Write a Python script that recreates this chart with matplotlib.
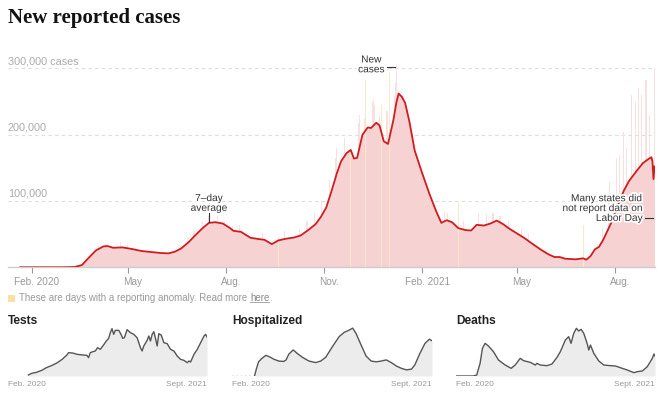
import matplotlib
matplotlib.use('Agg')
import matplotlib.pyplot as plt
import matplotlib.dates as mdates
import matplotlib.transforms as mtransforms
import matplotlib.patheffects as pe
import pandas as pd

W, H, DPI = 661, 397, 100

# ---------------- data ----------------
avg_dates = ["2020-01-21", "2020-03-01", "2020-03-12", "2020-03-19", "2020-03-25", "2020-04-01",
             "2020-04-08", "2020-04-12", "2020-04-17", "2020-04-26", "2020-05-05", "2020-05-14",
             "2020-05-26", "2020-06-01", "2020-06-08", "2020-06-14", "2020-06-20", "2020-06-27",
             "2020-07-03", "2020-07-10", "2020-07-16", "2020-07-22", "2020-07-29", "2020-08-04",
             "2020-08-08", "2020-08-15", "2020-08-24", "2020-09-01", "2020-09-06", "2020-09-13",
             "2020-09-19", "2020-09-26", "2020-10-04", "2020-10-10", "2020-10-17", "2020-10-24",
             "2020-10-29", "2020-11-03", "2020-11-08", "2020-11-13", "2020-11-17", "2020-11-22",
             "2020-11-26", "2020-11-29", "2020-12-02", "2020-12-07", "2020-12-12", "2020-12-15",
             "2020-12-20", "2020-12-23", "2020-12-27", "2020-12-31", "2021-01-05", "2021-01-08",
             "2021-01-10", "2021-01-13", "2021-01-16", "2021-01-20", "2021-01-25", "2021-02-01",
             "2021-02-08", "2021-02-14", "2021-02-19", "2021-02-24", "2021-03-01", "2021-03-07",
             "2021-03-14", "2021-03-19", "2021-03-24", "2021-03-31", "2021-04-06", "2021-04-12",
             "2021-04-18", "2021-04-24", "2021-05-01", "2021-05-08", "2021-05-14", "2021-05-23",
             "2021-05-30", "2021-06-05", "2021-06-10", "2021-06-15", "2021-06-25", "2021-07-02",
             "2021-07-05", "2021-07-09", "2021-07-13", "2021-07-17", "2021-07-21", "2021-07-28",
             "2021-08-04", "2021-08-09", "2021-08-14", "2021-08-21", "2021-08-27", "2021-09-01",
             "2021-09-04", "2021-09-05", "2021-09-06", "2021-09-07"]
avg_values = [0, 10, 400, 3500, 14000, 25500,
              31500, 32000, 29500, 30000, 27500, 24500,
              22500, 21500, 21000, 23500, 28500, 38000,
              48000, 59000, 67000, 68000, 66000, 60000,
              55000, 53500, 44500, 42500, 41500, 35000,
              40500, 43000, 45000, 48000, 56000, 65000,
              76000, 90000, 115000, 142000, 160000, 172000,
              177000, 164000, 165000, 200000, 211000, 210000,
              218000, 214000, 190000, 186000, 222000, 250000,
              262000, 257000, 248000, 220000, 176000, 142000,
              110000, 85000, 67000, 71000, 68000, 59000,
              56000, 55500, 64000, 63000, 66000, 70500,
              65000, 58000, 51000, 44000, 37000, 27000,
              20000, 15500, 15500, 13000, 12000, 13500,
              11500, 17000, 27000, 31000, 42000, 66000,
              95000, 115000, 130000, 145000, 157000, 163000,
              166000, 160000, 133000, 152000]

spike_dates = ["2020-04-03", "2020-04-10", "2020-04-24", "2020-05-01", "2020-05-08", "2020-06-19",
               "2020-06-26", "2020-07-02", "2020-07-10", "2020-07-16", "2020-07-24", "2020-07-31",
               "2020-08-07", "2020-08-14", "2020-08-21", "2020-09-04", "2020-09-25", "2020-10-09",
               "2020-10-16", "2020-10-23", "2020-10-30", "2020-11-06", "2020-11-12", "2020-11-13",
               "2020-11-20", "2020-12-03", "2020-12-04", "2020-12-09", "2020-12-16", "2020-12-17",
               "2020-12-18", "2020-12-23", "2020-12-30", "2021-01-06", "2021-01-07", "2021-01-08",
               "2021-01-09", "2021-01-14", "2021-01-22", "2021-01-28", "2021-02-04", "2021-02-11",
               "2021-02-22", "2021-02-25", "2021-03-12", "2021-03-26", "2021-04-02", "2021-04-08",
               "2021-04-09", "2021-04-15", "2021-04-23", "2021-05-05", "2021-05-12", "2021-07-20",
               "2021-07-26", "2021-07-27", "2021-08-02", "2021-08-05", "2021-08-09", "2021-08-12",
               "2021-08-16", "2021-08-20", "2021-08-23", "2021-08-26", "2021-08-30", "2021-09-02",
               "2021-09-07"]
spike_values = [34000, 35500, 38000, 35000, 29000, 32000,
                45000, 55000, 69000, 77000, 78000, 70000,
                62000, 64000, 48000, 52000, 55000, 58000,
                70000, 84000, 100000, 132000, 165000, 180000,
                195000, 218000, 230000, 225000, 250000, 253000,
                245000, 228000, 235000, 258000, 278000, 305000,
                265000, 240000, 195000, 160000, 125000, 100000,
                83000, 82000, 70000, 82000, 80000, 82000,
                83000, 78000, 70000, 58000, 50000, 60000,
                110000, 128000, 165000, 170000, 204000, 180000,
                260000, 250000, 270000, 260000, 283000, 230000,
                300000]

anomaly_dates = ["2020-09-19", "2020-11-26", "2020-12-10", "2020-12-25", "2021-01-01",
                 "2021-03-07", "2021-07-02"]
anomaly_values = [45000, 174000, 283000, 245000, 294000, 97000, 64000]

tick_dates = ["2020-02-01", "2020-05-01", "2020-08-01", "2020-11-01",
              "2021-02-01", "2021-05-01", "2021-08-01"]
tick_labels = ["Feb. 2020", "May", "Aug.", "Nov.", "Feb. 2021", "May", "Aug."]
grid_values = [100000, 200000, 300000]
grid_labels = ["100,000", "200,000", "300,000 cases"]

# small multiples (tests in thousands, hospitalized in thousands, deaths)
tests_dates = ["2020-03-22", "2020-04-01", "2020-04-15", "2020-05-01", "2020-05-15", "2020-06-01",
               "2020-06-15", "2020-07-01", "2020-07-15", "2020-07-20", "2020-08-01", "2020-08-15",
               "2020-09-01", "2020-09-13", "2020-09-18", "2020-09-23", "2020-10-01", "2020-10-08",
               "2020-10-15", "2020-10-23", "2020-11-01", "2020-11-10", "2020-11-17", "2020-11-22",
               "2020-11-27", "2020-12-02", "2020-12-07", "2020-12-17", "2020-12-24", "2020-12-29",
               "2021-01-03", "2021-01-11", "2021-01-21", "2021-01-31", "2021-02-10", "2021-02-20",
               "2021-02-25", "2021-03-02", "2021-03-12", "2021-03-17", "2021-03-22", "2021-03-27",
               "2021-04-01", "2021-04-06", "2021-04-11", "2021-04-16", "2021-04-23", "2021-05-01",
               "2021-05-11", "2021-05-21", "2021-05-31", "2021-06-10", "2021-06-20", "2021-06-30",
               "2021-07-10", "2021-07-15", "2021-07-20", "2021-07-30", "2021-08-09", "2021-08-19",
               "2021-08-29", "2021-09-03", "2021-09-07"]
tests_values = [42, 112, 154, 238, 350, 448,
                546, 700, 882, 980, 966, 910,
                882, 868, 770, 980, 1022, 1050,
                1190, 1120, 1288, 1470, 1582, 1820,
                1988, 1750, 1918, 1918, 1750, 1582,
                1610, 1946, 1820, 1750, 1610, 1190,
                1050, 1260, 1498, 1680, 1470, 1750,
                1862, 1582, 1260, 1778, 1722, 1400,
                1358, 1120, 1050, 840, 700, 658,
                560, 630, 588, 910, 1120, 1400,
                1680, 1750, 1638]

hosp_dates = ["2020-03-28", "2020-04-03", "2020-04-09", "2020-04-19", "2020-05-01", "2020-05-14",
              "2020-05-24", "2020-06-08", "2020-06-23", "2020-06-30", "2020-07-08", "2020-07-21",
              "2020-08-02", "2020-08-17", "2020-09-06", "2020-09-26", "2020-10-11", "2020-10-26",
              "2020-11-15", "2020-12-05", "2020-12-20", "2021-01-04", "2021-01-14", "2021-01-24",
              "2021-02-08", "2021-02-23", "2021-03-10", "2021-03-25", "2021-04-09", "2021-04-24",
              "2021-05-09", "2021-05-24", "2021-06-08", "2021-06-23", "2021-07-08", "2021-07-18",
              "2021-08-02", "2021-08-17", "2021-08-30", "2021-09-07"]
hosp_values = [0, 20, 37, 46, 54, 49,
               44, 39, 38, 42, 57, 68,
               59, 49, 39, 35, 39, 49,
               77, 103, 114, 120, 125, 111,
               81, 52, 39, 37, 39, 42,
               35, 26, 20, 16, 18, 29,
               59, 85, 96, 92]

deaths_dates = ["2020-01-21", "2020-03-13", "2020-03-23", "2020-04-02", "2020-04-09", "2020-04-17",
                "2020-04-27", "2020-05-12", "2020-05-27", "2020-06-16", "2020-07-04", "2020-07-16",
                "2020-07-31", "2020-08-10", "2020-08-30", "2020-09-14", "2020-09-19", "2020-09-29",
                "2020-10-19", "2020-11-03", "2020-11-18", "2020-11-28", "2020-12-13", "2020-12-23",
                "2020-12-30", "2021-01-07", "2021-01-15", "2021-01-22", "2021-01-29", "2021-02-06",
                "2021-02-16", "2021-02-21", "2021-02-26", "2021-03-08", "2021-03-23", "2021-04-07",
                "2021-04-27", "2021-05-12", "2021-06-01", "2021-06-16", "2021-07-06", "2021-07-16",
                "2021-07-31", "2021-08-15", "2021-08-30", "2021-09-04", "2021-09-07"]
deaths_values = [0, 0, 71, 904, 1975, 2332,
                 2142, 1737, 1142, 785, 547, 785,
                 1261, 1095, 976, 785, 904, 785,
                 738, 857, 1333, 1737, 2570, 2808,
                 2332, 3046, 3403, 3213, 3332, 3046,
                 2332, 1856, 2213, 1618, 1071, 785,
                 738, 714, 547, 428, 238, 309,
                 357, 666, 1261, 1571, 1428]

# ---------------- style ----------------
SANS = ['Liberation Sans', 'DejaVu Sans']
NARROW = ['Liberation Sans Narrow', 'Liberation Sans', 'DejaVu Sans']
RED = '#d01c1f'
PINK = '#f7d2d2'
SPIKE = '#f9e0e0'
YELLOW = '#fbe8cc'
GRAY_TXT = '#999999'

plt.rcParams['font.family'] = SANS

fig = plt.figure(figsize=(W / DPI, H / DPI), dpi=DPI)
fig.patch.set_facecolor('white')


def rect(left, top, right, bottom):
    return [left / W, 1 - bottom / H, (right - left) / W, (bottom - top) / H]


def ftext(x, y, s, **kw):
    return fig.text(x / W, 1 - y / H, s, **kw)


to_num = lambda lst: mdates.date2num(pd.to_datetime(lst))

# title
ftext(8, 18, "New reported cases", family=['Liberation Serif', 'DejaVu Serif'],
      weight='bold', size=15, color='#121212', va='center', ha='left')

# ---------------- main chart ----------------
ax = fig.add_axes(rect(8, 55.1, 655, 267.3))
ax.set_xlim(pd.Timestamp("2020-01-09 12:00"), pd.Timestamp("2021-09-07 10:00"))
ax.set_ylim(0, 320000)
ax.set_facecolor('none')

for v in grid_values:
    ax.axhline(v, color='#dcdcdc', lw=0.8, ls=(0, (3, 3)), zorder=0)

ad = to_num(avg_dates)
ax.bar(to_num(spike_dates), spike_values, width=1.0, color=SPIKE, lw=0, zorder=1)
ax.fill_between(ad, avg_values, color=PINK, lw=0, zorder=1.1)
ax.bar(to_num(anomaly_dates), anomaly_values, width=0.9, color=YELLOW, lw=0, zorder=1.2)
ax.plot(ad, avg_values, color=RED, lw=1.3, zorder=3, solid_joinstyle='round')

for s in ['top', 'right', 'left']:
    ax.spines[s].set_visible(False)
ax.spines['bottom'].set_color('#cccccc')
ax.spines['bottom'].set_linewidth(1.0)
ax.set_yticks([])
ax.set_xticks(to_num(tick_dates))
ax.set_xticklabels(tick_labels)
ax.tick_params(axis='x', length=4, width=0.8, color='#999999', labelcolor=GRAY_TXT,
               labelsize=7.2, pad=3)
off = mtransforms.ScaledTranslation(5 / DPI, 0, fig.dpi_scale_trans)
for lab in ax.get_xticklabels():
    lab.set_transform(lab.get_transform() + off)

# grid labels
for v, lab in zip(grid_values, grid_labels):
    ax.annotate(lab, xy=(0, v), xycoords=('axes fraction', 'data'), xytext=(0, 2),
                textcoords='offset pixels', ha='left', va='bottom', fontsize=7.8,
                color='#aaaaaa')


def data_px(d, v):
    X, Y = ax.transData.transform((mdates.date2num(pd.Timestamp(d)), v))
    return X, H - Y


halo = [pe.withStroke(linewidth=2.5, foreground='white')]
ann_kw = dict(family=NARROW, size=7.3, color='#333333', linespacing=0.98)

# 7-day average
x7, y7 = data_px("2020-07-16", 67000)
fig.add_artist(plt.Line2D([x7 / W, x7 / W], [1 - (y7 - 1) / H, 1 - (y7 - 10) / H],
                          color='#333333', lw=0.8))
ftext(x7, y7 - 10, "7–day\naverage", ha='center', va='bottom', multialignment='center',
      path_effects=halo, **ann_kw)

# New cases
xn, yn = data_px("2021-01-08", 300000)
fig.add_artist(plt.Line2D([(xn - 10) / W, (xn - 2) / W], [1 - (yn - 1) / H] * 2,
                          color='#333333', lw=0.8))
ftext(xn - 12, yn - 4, "New\ncases", ha='right', va='center', multialignment='center',
      path_effects=halo, **ann_kw)

# Labor Day
xl, yl = data_px("2021-09-06", 75000)
fig.add_artist(plt.Line2D([(xl - 8) / W, xl / W], [1 - yl / H] * 2,
                          color='#333333', lw=0.8))
ftext(xl - 11, yl - 9.5, "Many states did\nnot report data on\nLabor Day", ha='right',
      va='center', multialignment='right', path_effects=halo, **ann_kw)

# anomaly legend
fig.add_artist(plt.Rectangle((8 / W, 1 - 302 / H), 7 / W, 7 / H, color='#fbe0a6', lw=0))
renderer = fig.canvas.get_renderer()
t1 = ftext(19, 298, "These are days with a reporting anomaly. Read more ", size=7,
           color='#999999', va='center', ha='left')
bb = t1.get_window_extent(renderer)
t2 = fig.text(bb.x1 / W, 1 - 298 / H, "here", size=7, color='#888888', va='center', ha='left')
bb2 = t2.get_window_extent(renderer)
fig.add_artist(plt.Line2D([bb2.x0 / W, bb2.x1 / W], [(bb2.y0 + 1) / H] * 2,
                          color='#999999', lw=0.6))
fig.text(bb2.x1 / W, 1 - 298 / H, ".", size=7, color='#999999', va='center', ha='left')

# ---------------- small multiples ----------------
panels = [
    ("Tests", tests_dates, tests_values, (8, 207), 2100, False),
    ("Hospitalized", hosp_dates, hosp_values, (232, 432), 130.5, True),
    ("Deaths", deaths_dates, deaths_values, (456, 655), 3570, False),
]
for title, dts, vals, (x0, x1), ytop, dotted in panels:
    sa = fig.add_axes(rect(x0, 326, x1, 376))
    sa.set_xlim(pd.Timestamp("2020-01-21"), pd.Timestamp("2021-09-07"))
    sa.set_ylim(0, ytop)
    sa.axis('off')
    dn = to_num(dts)
    sa.fill_between(dn, vals, color='#ececec', lw=0)
    sa.plot(dn, vals, color='#555555', lw=1.0, solid_joinstyle='round')
    if dotted:
        sa.plot([mdates.date2num(pd.Timestamp("2020-01-21")), dn[0]], [0, 0],
                color='#777777', lw=1.0, ls=(0, (1, 2)))
    ftext(x0, 321, title, size=8.6, weight='bold', color='#222222', va='center', ha='left')
    ftext(x0, 384, "Feb. 2020", size=6, color=GRAY_TXT, va='center', ha='left')
    ftext(x1, 384, "Sept. 2021", size=6, color=GRAY_TXT, va='center', ha='right')

fig.savefig('out.png', dpi=DPI, facecolor='white')
